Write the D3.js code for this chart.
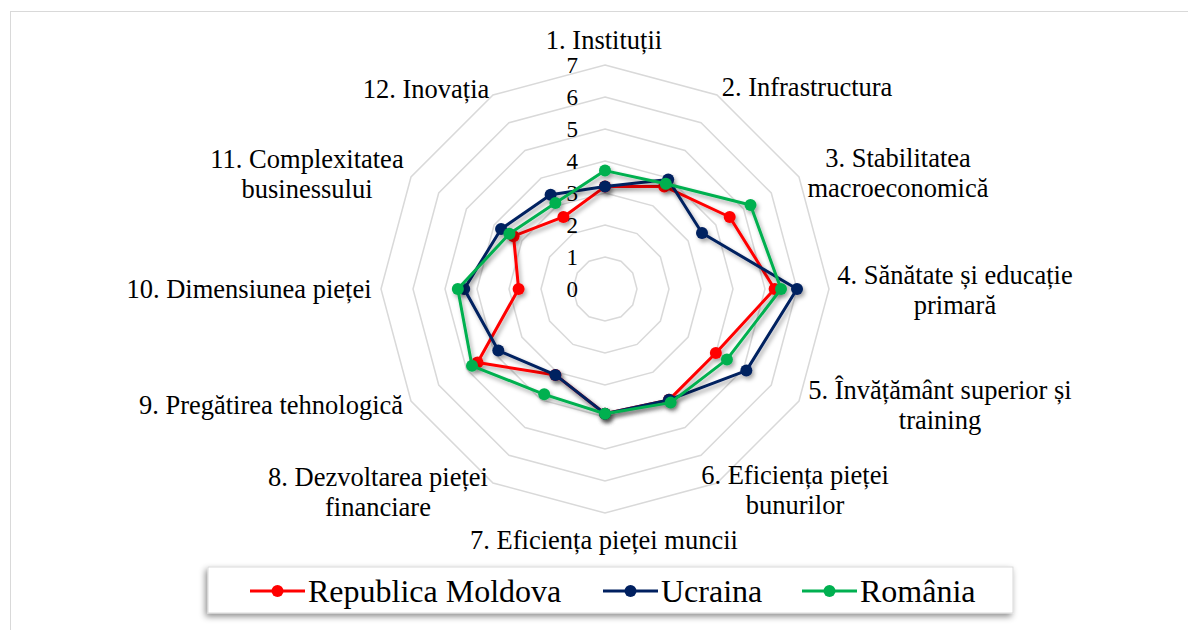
<!DOCTYPE html>
<html>
<head>
<meta charset="utf-8">
<script src="https://cdn.jsdelivr.net/npm/d3@7"></script>
<style>
	html, body { margin: 0; padding: 0; background: #fff; }
	svg { display: block; font-family: "Liberation Serif", "Times New Roman", serif; }
</style>
</head>
<body>
<script>
// categories (GCI pillars), one line per text row
var categories = [
	["1. Instituții"],
	["2. Infrastructura"],
	["3. Stabilitatea", "macroeconomică"],
	["4. Sănătate și educație", "primară"],
	["5. Învățământ superior și", "training"],
	["6. Eficiența pieței", "bunurilor"],
	["7. Eficiența pieței muncii"],
	["8. Dezvoltarea pieței", "financiare"],
	["9. Pregătirea tehnologică"],
	["10. Dimensiunea pieței"],
	["11. Complexitatea", "businessului"],
	["12. Inovația"]
];

var moldova = [3.2, 3.7, 4.5, 5.3, 4.0, 4.0, 3.9, 3.1, 4.6, 2.7, 3.3, 2.6];
var ucraina = [3.2, 3.95, 3.5, 6.0, 5.1, 4.0, 3.9, 3.1, 3.85, 4.4, 3.75, 3.4];
var romania = [3.7, 3.8, 5.25, 5.5, 4.4, 4.1, 3.9, 3.8, 4.8, 4.6, 3.45, 3.1];

var seriesNames = ["Republica Moldova", "Ucraina", "România"];
var seriesColors = ["#ff0000", "#002060", "#00b050"];
var ticks = [0, 1, 2, 3, 4, 5, 6, 7];

var W = 1188, H = 630;
var cx = 605, cy = 289;

// label anchor points (center of the text block), placed by hand like Excel does
var labelPos = [
	[604, 40], [807, 87], [898, 173], [955, 290], [940, 405], [795, 490],
	[604, 540], [378, 492], [271, 405], [249, 289], [307, 174], [426, 89]
];

var svg = d3.select("body").append("svg").attr("width", W).attr("height", H);

var defs = svg.append("defs");
var f = defs.append("filter").attr("id", "shadow")
	.attr("x", "-10%").attr("y", "-10%").attr("width", "130%").attr("height", "130%");
f.append("feDropShadow").attr("dx", 2).attr("dy", 3).attr("stdDeviation", 2)
	.attr("flood-color", "#000").attr("flood-opacity", 0.35);
var f2 = defs.append("filter").attr("id", "boxshadow")
	.attr("x", "-5%").attr("y", "-30%").attr("width", "110%").attr("height", "170%");
f2.append("feDropShadow").attr("dx", -2).attr("dy", 3).attr("stdDeviation", 3)
	.attr("flood-color", "#000").attr("flood-opacity", 0.45);

// chart area border
svg.append("rect").attr("x", 10.5).attr("y", 11.5).attr("width", W + 20).attr("height", H + 20)
	.attr("fill", "#fff").attr("stroke", "#d9d9d9").attr("stroke-width", 1);

var r = d3.scaleLinear().domain([0, 7]).range([0, 224]);
var angle = d3.scaleLinear().domain([0, categories.length]).range([0, 2 * Math.PI]);

var g = svg.append("g").attr("transform", "translate(" + cx + "," + cy + ")");

// grid rings (12-gons)
var ring = d3.lineRadial()
	.angle(function(d, i) { return angle(i); })
	.radius(function(d) { return r(d); })
	.curve(d3.curveLinearClosed);

g.selectAll(".ring").data(ticks.slice(1)).enter().append("path")
	.attr("class", "ring")
	.attr("d", function(t) { return ring(categories.map(function() { return t; })); })
	.attr("fill", "none").attr("stroke", "#d9d9d9").attr("stroke-width", 1.5);

// tick labels on axis 1
g.selectAll(".tick").data(ticks).enter().append("text")
	.attr("class", "tick")
	.attr("x", -27).attr("y", function(t) { return -r(t); })
	.attr("dy", "0.35em")
	.attr("text-anchor", "end")
	.attr("font-size", 23).attr("fill", "#000")
	.text(function(t) { return t; });

// series
var series = [moldova, ucraina, romania];
var line = d3.lineRadial()
	.angle(function(d, i) { return angle(i); })
	.radius(function(d) { return r(d); })
	.curve(d3.curveLinearClosed);

series.forEach(function(vals, si) {
	var sg = g.append("g").attr("filter", "url(#shadow)");
	sg.append("path").attr("d", line(vals))
		.attr("fill", "none").attr("stroke", seriesColors[si]).attr("stroke-width", 3)
		.attr("stroke-linejoin", "round");
	sg.selectAll("circle").data(vals).enter().append("circle")
		.attr("cx", function(d, i) { return r(d) * Math.sin(angle(i)); })
		.attr("cy", function(d, i) { return -r(d) * Math.cos(angle(i)); })
		.attr("r", 6)
		.attr("fill", seriesColors[si]);
});

// category labels
var lab = svg.selectAll(".cat").data(categories).enter().append("text")
	.attr("class", "cat")
	.attr("text-anchor", "middle")
	.attr("font-size", 26.5).attr("fill", "#000");
lab.each(function(lines, i) {
	var t = d3.select(this);
	var p = labelPos[i];
	var y0 = p[1] - (lines.length - 1) * 15;
	lines.forEach(function(s, k) {
		t.append("tspan").attr("x", p[0]).attr("y", y0 + k * 30).attr("dy", "0.35em").text(s);
	});
});

// legend
var legend = svg.append("g");
legend.append("rect").attr("x", 208).attr("y", 567).attr("width", 805).attr("height", 46)
	.attr("fill", "#fff").attr("stroke", "#d9d9d9").attr("filter", "url(#boxshadow)");
var legX = [250, 603, 802];
seriesNames.forEach(function(name, i) {
	var lg = legend.append("g").attr("transform", "translate(" + legX[i] + ",591)");
	lg.append("line").attr("x1", 0).attr("x2", 55).attr("y1", 0).attr("y2", 0)
		.attr("stroke", seriesColors[i]).attr("stroke-width", 3);
	lg.append("circle").attr("cx", 27.5).attr("cy", 0).attr("r", 6).attr("fill", seriesColors[i]);
	lg.append("text").attr("x", 58).attr("y", 0).attr("dy", "0.35em")
		.attr("font-size", 32).attr("fill", "#000").text(name);
});
</script>
</body>
</html>
